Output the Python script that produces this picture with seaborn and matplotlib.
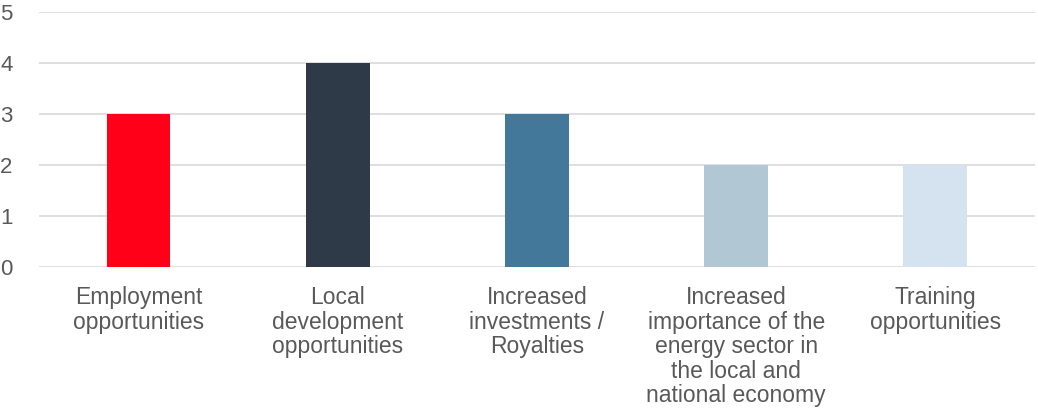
import matplotlib
matplotlib.use("Agg")
import matplotlib.pyplot as plt
import seaborn as sns
import pandas as pd

categories = [
    "Employment\nopportunities",
    "Local\ndevelopment\nopportunities",
    "Increased\ninvestments /\nRoyalties",
    "Increased\nimportance of the\nenergy sector in\nthe local and\nnational economy",
    "Training\nopportunities",
]
values = [3, 4, 3, 2, 2]
colors = ["#FF0018", "#2E3A48", "#44789A", "#B1C7D4", "#D4E3EF"]
yticks = [0, 1, 2, 3, 4, 5]

sns.set_theme(style="white")
plt.rcParams['font.family'] = ['Liberation Sans', 'DejaVu Sans']

df = pd.DataFrame({"cat": categories, "val": values})
fig = plt.figure(figsize=(10.38, 4.19), dpi=100)
ax = fig.add_axes([0.0376, 0.3628, 0.9594, 0.6086])
sns.barplot(data=df, x="cat", y="val", hue="cat", palette=colors, legend=False,
            width=0.32, ax=ax, saturation=1, linewidth=0)
ax.set_ylim(0, 5)
ax.set_yticks(yticks)
ax.set_xlim(-0.5, len(categories) - 0.5)
ax.yaxis.grid(True, color="#D9D9D9", linewidth=1.2)
ax.set_axisbelow(True)
for s in ax.spines.values():
    s.set_visible(False)
ax.set_xlabel("")
ax.set_ylabel("")
ax.tick_params(axis="y", length=0, colors="#595959", labelsize=16, pad=28)
ax.tick_params(axis="x", length=0, colors="#595959", labelsize=16.5, pad=14)
for lbl in ax.get_yticklabels():
    lbl.set_horizontalalignment("left")
for lbl in ax.get_xticklabels():
    lbl.set_linespacing(1.08)
fig.savefig("out.png", dpi=100)
